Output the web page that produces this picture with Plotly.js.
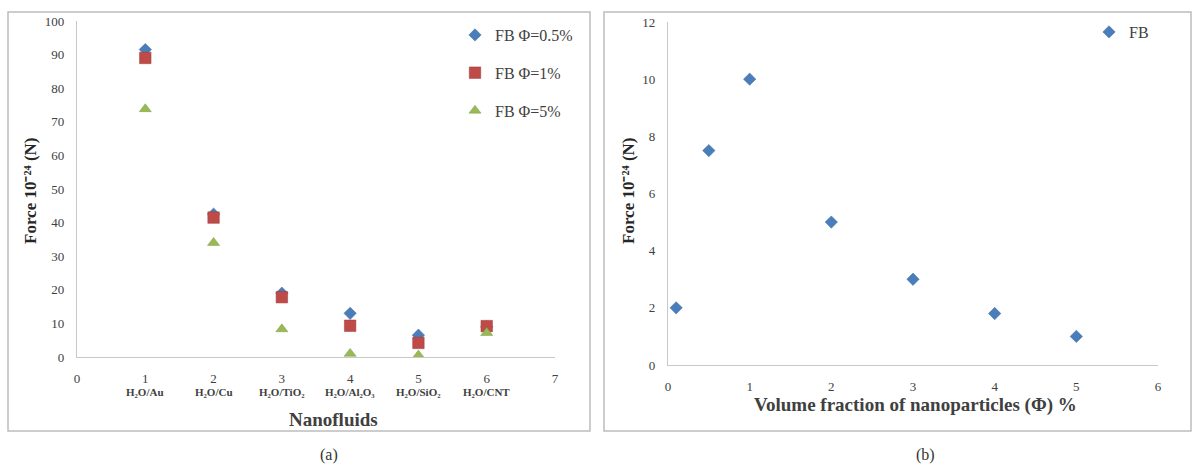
<!DOCTYPE html>
<html>
<head>
<meta charset="utf-8">
<script src="https://cdn.plot.ly/plotly-3.0.1.min.js"></script>
<style>html,body{margin:0;padding:0;background:#fff;}#chart{width:1200px;height:465px;}</style>
</head>
<body>
<div id="chart"></div>
<script>
// ---- Data: panel (a) ----
const categoryPositions = [1, 2, 3, 4, 5, 6];
const categoryLabels = ["H₂O/Au", "H₂O/Cu", "H₂O/TiO₂", "H₂O/Al₂O₃", "H₂O/SiO₂", "H₂O/CNT"];
const fbPhi05 = [91.5, 42.5, 19, 13, 6.5, 9];
const fbPhi1 = [89, 41.5, 17.8, 9.3, 4.2, 9.2];
const fbPhi5 = [73.8, 34, 8.3, 1, 0.5, 7.2];
const seriesNamesA = ["FB Φ=0.5%", "FB Φ=1%", "FB Φ=5%"];

// ---- Data: panel (b) ----
const volumeFraction = [0.1, 0.5, 1, 2, 3, 4, 5];
const fbForce = [2, 7.5, 10, 5, 3, 1.8, 1];
const seriesNameB = "FB";

const W = 1200, H = 465;
const px = x => x / W;
const py = y => (H - y) / H;
const FONT = "'Liberation Serif', 'Times New Roman', serif";
const BLUE = "#4a7ebb", RED = "#be4b48", GREEN = "#98b954";
const Y_TITLE = "<b>Force 10⁻²⁴ (N)</b>";

const traces = [
  {x: categoryPositions, y: fbPhi05, name: seriesNamesA[0], type: "scatter", mode: "markers",
   marker: {symbol: "diamond", size: 9.5, color: BLUE, line: {width: 0.5, color: "#3a6aa5"}},
   xaxis: "x", yaxis: "y", legend: "legend", legendgroup: "a1"},
  {x: categoryPositions, y: fbPhi1, name: seriesNamesA[1], type: "scatter", mode: "markers",
   marker: {symbol: "square", size: 11.5, color: RED, line: {width: 0.5, color: "#a03a37"}},
   xaxis: "x", yaxis: "y", legend: "legend", legendgroup: "a2"},
  {x: categoryPositions, y: fbPhi5, name: seriesNamesA[2], type: "scatter", mode: "markers",
   marker: {symbol: "triangle-up", size: 10.5, color: GREEN, line: {width: 0.5, color: "#7f9c44"}},
   xaxis: "x", yaxis: "y", legend: "legend", legendgroup: "a3"},
  {x: volumeFraction, y: fbForce, name: seriesNameB, type: "scatter", mode: "markers",
   marker: {symbol: "diamond", size: 9.5, color: BLUE, line: {width: 0.5, color: "#3a6aa5"}},
   xaxis: "x2", yaxis: "y2", legend: "legend2"}
];

const axisCommon = {
  showgrid: false, zeroline: false, showline: true, linecolor: "#c8c8c8", linewidth: 1.3,
  ticks: "", tickfont: {family: FONT, size: 13, color: "#404040"}, fixedrange: true
};

const annotations = [];
categoryPositions.forEach((c, i) => {
  annotations.push({x: c, y: py(392), xref: "x", yref: "paper", showarrow: false,
    text: "<b>" + categoryLabels[i] + "</b>", font: {family: FONT, size: 11, color: "#404040"},
    xanchor: "center", yanchor: "middle"});
});
annotations.push(
  {x: px(333), y: py(419), xref: "paper", yref: "paper", showarrow: false,
   text: "<b>Nanofluids</b>", font: {family: FONT, size: 19, color: "#404040"}, xanchor: "center", yanchor: "middle"},
  {x: px(915), y: py(405), xref: "paper", yref: "paper", showarrow: false,
   text: "<b>Volume fraction of nanoparticles (Φ) %</b>", font: {family: FONT, size: 19, color: "#404040"}, xanchor: "center", yanchor: "middle"},
  {x: px(30), y: py(191), xref: "paper", yref: "paper", showarrow: false, textangle: -90,
   text: Y_TITLE, font: {family: FONT, size: 17, color: "#262626"}, xanchor: "center", yanchor: "middle"},
  {x: px(628), y: py(191), xref: "paper", yref: "paper", showarrow: false, textangle: -90,
   text: Y_TITLE, font: {family: FONT, size: 17, color: "#262626"}, xanchor: "center", yanchor: "middle"},
  {x: px(329), y: py(455), xref: "paper", yref: "paper", showarrow: false,
   text: "(a)", font: {family: FONT, size: 16, color: "#333"}, xanchor: "center", yanchor: "middle"},
  {x: px(925), y: py(455), xref: "paper", yref: "paper", showarrow: false,
   text: "(b)", font: {family: FONT, size: 16, color: "#333"}, xanchor: "center", yanchor: "middle"}
);

const layout = {
  width: W, height: H,
  margin: {l: 0, r: 0, t: 0, b: 0},
  paper_bgcolor: "#ffffff", plot_bgcolor: "#ffffff",
  showlegend: true,
  xaxis: Object.assign({}, axisCommon, {domain: [px(77), px(555)], range: [0, 7], dtick: 1, tick0: 0,
    ticklabelstandoff: 9, anchor: "y"}),
  yaxis: Object.assign({}, axisCommon, {domain: [py(357), py(21)], range: [0, 100], dtick: 10, tick0: 0,
    ticklabelstandoff: 9, anchor: "x"}),
  xaxis2: Object.assign({}, axisCommon, {domain: [px(668), px(1158)], range: [0, 6], dtick: 1, tick0: 0,
    ticklabelstandoff: 9, anchor: "y2"}),
  yaxis2: Object.assign({}, axisCommon, {domain: [py(365), py(22)], range: [0, 12], dtick: 2, tick0: 0,
    ticklabelstandoff: 9, anchor: "x2"}),
  legend: {x: px(455), y: py(18), xanchor: "left", yanchor: "top", xref: "paper", yref: "paper",
    font: {family: FONT, size: 16, color: "#404040"}, bgcolor: "rgba(0,0,0,0)",
    traceorder: "grouped", tracegroupgap: 14, itemwidth: 30},
  legend2: {x: px(1089), y: py(15), xanchor: "left", yanchor: "top", xref: "paper", yref: "paper",
    font: {family: FONT, size: 16, color: "#404040"}, bgcolor: "rgba(0,0,0,0)", itemwidth: 30},
  shapes: [
    {type: "rect", xref: "paper", yref: "paper", x0: px(8), x1: px(590), y0: py(431), y1: py(12),
     line: {color: "#bdbdbd", width: 1.5}},
    {type: "rect", xref: "paper", yref: "paper", x0: px(604), x1: px(1191), y0: py(431), y1: py(12),
     line: {color: "#bdbdbd", width: 1.5}}
  ],
  annotations: annotations
};

Plotly.newPlot("chart", traces, layout, {displayModeBar: false});
</script>
</body>
</html>
